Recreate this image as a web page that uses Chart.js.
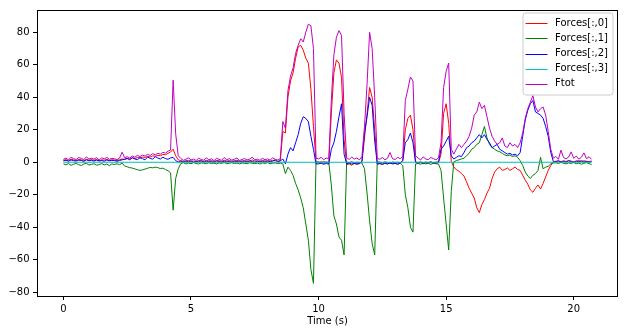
<!DOCTYPE html>
<html>
<head>
<meta charset="utf-8">
<title>Forces</title>
<script src="https://cdn.jsdelivr.net/npm/chart.js@4.4.0/dist/chart.umd.min.js"></script>
<style>
  html, body { margin: 0; padding: 0; background: #fff; }
  #wrap { width: 625px; height: 335px; }
</style>
</head>
<body>
<div id="wrap"><canvas id="forces" width="625" height="335"></canvas></div>
<script>
const SAMPLE_DT = 0.1;

const forces0 = [
  1.2, 1.6, 1.0, 1.9, 1.4, 1.1, 1.7, 1.5, 1.0, 1.8, 1.3, 1.6, 1.2, 1.7, 0.9, 1.5, 1.3, 1.8, 1.1, 1.5, 1.4, 1.0, 1.6,
  2.0,
  1.8, 2.2, 2.0, 2.6, 2.3, 2.9, 2.7, 3.2, 3.0, 3.6, 3.3, 3.9, 3.7, 4.2, 4.0, 4.8, 4.6, 5.5, 6.3,
  8.0, 4.0, 1.5,
  1.0, 0.6, 0.9, 1.2, 0.7, 0.8, 0.5, 1.1, 0.9, 0.6, 1.2, 0.8, 1.0, 0.5, 1.1, 0.9, 0.6, 1.3, 0.8, 1.0,
  0.7, 0.9, 1.2, 0.5, 0.8, 1.1, 0.7, 0.9, 1.4, 0.8, 0.9, 0.6, 1.1, 0.8, 1.0, 0.7, 1.2, 0.9, 0.7, 1.0,
  19, 18, 40, 50, 55, 64, 71, 72, 69, 64, 61, 45, 22, 0.3,
  -0.5, 0.4, -0.8, 0.2, -0.3,
  30, 55, 63, 61, 52, 14,
  -1.5, -1.0, -1.8, -0.7, -1.3, -0.9,
  0.5, 15, 30, 46, 40, 20, -1.2,
  -0.8, -1.4, -0.6, -1.1, -0.5, -1.0, -0.7, -1.3, -0.4,
  1.0, 20, 27, 29, 20, 0.5,
  -0.6, -0.2, -0.9, -0.4, -0.7, -0.1, -0.5, -0.8, -0.3,
  5, 30, 36, 24, 0.5,
  -3, -4.5, -5.5, -7, -8.5, -12, -16, -19, -22, -28, -31, -26, -23, -19, -16, -10, -6, -4, -3, -5, -4.5, -3.5, -5, -4, -3, -4.5, -5,
  -8, -11, -13.5, -17, -18.5, -16, -14, -16.5, -13, -9, -5, -2, 0.3,
  0.6, 1.0, 0.4, 0.9, 0.5, 1.1, 0.7, 0.3, 0.8, 1.0, 0.5, 0.9, 0.6, 0.4, 0.8
];

const forces1 = [
  -1.0, -1.6, -0.8, -1.9, -1.2, -0.7, -1.5, -2.0, -1.1, -0.6, -1.7, -1.3, -0.9, -1.8, -1.4, -0.8, -1.6, -1.1, -2.1, -1.0, -1.4, -0.9, -1.5,
  -0.5,
  -2.3, -2.8, -3.3, -3.6, -4.1, -4.6, -5.0, -4.7, -4.2, -3.7, -3.2, -3.4, -3.0, -3.3, -3.9, -3.6, -4.5, -5.2, -6.5,
  -29.5, -10, -4,
  -0.8, -0.3, -1.0, -0.5, -0.9, -0.2, -0.7, -1.1, -0.4, -0.6, -0.9, -0.3, -0.8, -0.5, -1.0, -0.4, -0.7, -0.2, -0.9, -0.6,
  -0.3, -0.8, -0.5, -1.0, -0.4, -0.7, -0.9, -0.3, -0.6, -0.8, -0.5, -1.1, -0.4, -0.7, -0.2, -0.9, -0.6, -0.4, -0.8, -0.5,
  -1, -7, -3, -5, -8, -13, -17, -22, -28, -38, -48, -66, -74.5, 0.2,
  0.3, -0.4, 0.5, -0.2, 0.1,
  -14, -33, -38, -46, -48, -57,
  0.2, -0.3, 0.4, -0.5, 0.1, -0.2,
  -0.5, -4, -19, -36, -50, -57, 0.3,
  0.1, -0.4, 0.3, -0.2, -0.6, 0.2, -0.3, 0.1, -0.5,
  -2, -20, -28, -40, -43, -1,
  -0.8, -1.2, -0.5, -1.0, -0.7, -1.3, -0.6, -0.9, -1.1,
  -5, -22, -38, -54, -18,
  0.2, 1.0, 1.5, 2.0, 2.5, 4.0, 5.5, 8, 9, 11, 12, 17, 22, 15, 11, 9, 8, 7, 6.5, 5.5, 4.5, 4, 4.5, 3.5, 4, 3, 1,
  -2, -6, -8.5, -10, -8, -7, -5, 3, -4, -3, -2.5, -1, -0.5,
  -0.3, -0.8, -0.1, -0.6, -1.0, -0.4, -0.7, -0.2, -0.9, -0.5, -1.2, -0.6, -0.3, -0.8, -1.5
];

const forces2 = [
  0.8, 1.2, 0.6, 1.4, 1.0, 0.7, 1.3, 1.1, 0.5, 1.5, 0.9, 1.2, 0.7, 1.3, 0.8, 1.1, 0.6, 1.4, 0.9, 1.2, 1.0, 0.6, 1.1,
  1.5,
  1.8, 2.5, 1.4, 3.0, 2.0, 1.6, 2.8, 2.2, 1.5, 3.2, 2.4, 1.9, 3.5, 2.6, 2.0, 3.1, 2.3, 1.8, 2.7,
  3.0, 1.0, 0.2,
  0.5, 0.2, 0.6, 0.3, 0.7, 0.1, 0.5, 0.4, 0.8, 0.2, 0.6, 0.3, 0.5, 0.0, 0.7, 0.4, 0.2, 0.6, 0.3, 0.5,
  0.1, 0.6, 0.4, 0.8, 0.2, 0.5, 0.3, 0.7, 0.4, 0.1, 0.6, 0.3, 0.5, 0.2, 0.7, 0.4, 0.6, 1.5, 0.3, 0.8,
  2.0, -1, 5, 9, 7, 12, 17, 24, 28, 27, 25, 16, 8, -1,
  -1.0, -0.6, -1.2, -0.8, -1.1,
  8, 12, 19, 28, 36, 5,
  -0.9, -0.5, -1.1, -0.7, -1.0, -0.6,
  0.5, 18, 28, 40, 35, 13, -1,
  -0.8, -1.2, -0.6, -1.0, -0.4, -0.9, -0.7, -1.1, -0.5,
  1, 12, 14, 18, 12, 0,
  -0.3, 0.2, -0.5, 0.1, -0.2, 0.3, -0.4, 0.0, 0.2,
  8, 10, 13, 16, 4,
  2, 3, 4, 3.5, 6, 9, 10, 12, 13, 15, 17, 15, 17, 14, 12, 9, 10, 11, 8, 7, 6, 5, 5.5, 4.5, 5, 4, 6,
  16, 26, 32, 36, 38, 31, 30, 29, 27, 22, 16, 6, 0.5,
  0.3, 0.7, 0.1, 0.5, 0.2, 0.8, 0.4, 0.0, 0.6, 0.3, 0.9, 0.2, 0.5, 0.1, 0.4
];

// fourth channel stays flat at zero over the whole recording
const forces3Time = [0, 20.7];
const forces3 = [0, 0];

const ftot = [
  1.8, 2.6, 1.5, 3.1, 2.2, 1.7, 2.9, 2.4, 1.6, 3.3, 2.0, 2.5, 1.9, 2.8, 1.4, 2.7, 2.1, 3.0, 1.8, 2.4, 2.2, 1.6, 2.6,
  6.2,
  2.8, 3.4, 2.6, 3.9, 3.1, 4.2, 3.5, 4.4, 3.8, 4.9, 4.2, 5.3, 4.6, 5.5, 5.0, 6.1, 5.6, 6.8, 7.5,
  50.5, 17.5, 4.0,
  2.3, 1.2, 1.9, 2.7, 1.4, 2.0, 1.1, 2.5, 1.7, 1.3, 2.8, 1.5, 2.1, 1.0, 2.4, 1.8, 1.2, 2.9, 1.6, 2.2,
  1.3, 1.9, 2.6, 1.1, 1.7, 2.3, 1.4, 2.0, 3.1, 1.5, 1.9, 1.2, 2.4, 1.6, 2.1, 1.3, 2.7, 1.8, 1.4, 2.2,
  25, 21, 44, 53, 58, 67, 72, 76, 74, 80, 85, 84, 70, 2.5,
  2.1, 3.0, 1.6, 2.6, 2.2,
  38, 66, 77, 81, 78, 30,
  2.8, 1.7, 3.2, 2.0, 2.6, 1.5,
  3.5, 22, 48, 80, 70, 40, 2.4,
  1.8, 2.9, 1.5, 2.4, 6.0, 2.1, 1.7, 3.0, 2.2,
  3.5, 38, 45, 52.5, 50, 4,
  2.6, 1.4, 3.3, 2.0, 1.6, 2.9, 2.2, 1.5, 2.7,
  12, 46, 56, 61, 8,
  5, 8, 11, 9, 11, 13, 16, 21, 29, 31, 37, 33, 35, 28, 21, 16, 13, 11, 12, 15, 10, 9, 12, 10, 11, 9, 12,
  18, 27, 33, 37, 41, 34, 31, 33, 34, 29, 19, 8, 2.5,
  3.6, 1.8, 7.5, 2.9, 2.1, 3.2, 6.4, 2.4, 3.8, 1.9, 3.1, 5.8, 2.2, 3.4, 1.8
];

const xTicks = [0, 5, 10, 15, 20];
const yTicks = [-80, -60, -40, -20, 0, 20, 40, 60, 80];

const time = ftot.map((_, i) => +(i * SAMPLE_DT).toFixed(1));

const FONT = { family: '"DejaVu Sans", sans-serif', size: 10 };
const fmt = (v) => (v < 0 ? '\u2212' + Math.abs(v) : String(v));

function series(label, values, times, color, order) {
  return {
    label,
    data: values.map((v, i) => ({ x: times[i], y: v })),
    borderColor: color,
    backgroundColor: color,
    borderWidth: 1,
    pointRadius: 0,
    tension: 0,
    order, // lower order is painted on top
  };
}

// matplotlib style box around the plot area
const frame = {
  id: 'frame',
  afterDatasetsDraw(chart) {
    const { ctx, chartArea: a } = chart;
    ctx.save();
    ctx.strokeStyle = '#000';
    ctx.lineWidth = 1;
    ctx.strokeRect(Math.round(a.left) + 0.5, Math.round(a.top) + 0.5,
      Math.round(a.right - a.left) - 1, Math.round(a.bottom - a.top) - 1);
    ctx.restore();
  },
};

// legend in the upper right corner, inside the axes
const cornerLegend = {
  id: 'cornerLegend',
  afterDraw(chart) {
    const { ctx, chartArea } = chart;
    const items = chart.data.datasets;
    ctx.save();
    ctx.font = '10px "DejaVu Sans", sans-serif';
    const textW = Math.max(...items.map((d) => ctx.measureText(d.label).width));
    const rowH = 15.2, handle = 22, gap = 7.5, padL = 3, padR = 4.5, padV = 10.6;
    const w = padL + handle + gap + textW + padR;
    const h = padV * 2 + rowH * (items.length - 1);
    const x0 = chartArea.right - 5.5 - w;
    const y0 = chartArea.top + 3;

    ctx.beginPath();
    ctx.roundRect(x0 + 0.5, y0 + 0.5, w, h, 3);
    ctx.fillStyle = 'rgba(255,255,255,0.8)';
    ctx.fill();
    ctx.strokeStyle = '#cccccc';
    ctx.lineWidth = 1;
    ctx.stroke();

    items.forEach((d, i) => {
      const cy = y0 + padV + i * rowH;
      ctx.strokeStyle = d.borderColor;
      ctx.beginPath();
      ctx.moveTo(x0 + padL, Math.round(cy) + 0.5);
      ctx.lineTo(x0 + padL + handle, Math.round(cy) + 0.5);
      ctx.stroke();
      ctx.fillStyle = '#000';
      ctx.textBaseline = 'middle';
      ctx.textAlign = 'left';
      ctx.fillText(d.label, x0 + padL + handle + gap, cy);
    });
    ctx.restore();
  },
};

new Chart(document.getElementById('forces'), {
  type: 'line',
  data: {
    datasets: [
      series('Forces[:,0]', forces0, time, '#ff0000', 5),
      series('Forces[:,1]', forces1, time, '#008000', 4),
      series('Forces[:,2]', forces2, time, '#0000ff', 3),
      series('Forces[:,3]', forces3, forces3Time, '#00bfbf', 2),
      series('Ftot', ftot, time, '#bf00bf', 1),
    ],
  },
  options: {
    responsive: false,
    animation: false,
    devicePixelRatio: 1,
    layout: { padding: { top: 7, right: 7, bottom: 0, left: 0 } },
    plugins: {
      legend: { display: false },
      tooltip: { enabled: false },
    },
    scales: {
      x: {
        type: 'linear',
        min: -1.035,
        max: 21.735,
        afterBuildTicks: (s) => { s.ticks = xTicks.map((v) => ({ value: v })); },
        afterFit: (s) => { s.height = 39; },
        border: { display: false },
        grid: { drawOnChartArea: false, drawTicks: true, tickLength: 4, color: '#000' },
        ticks: { padding: 3, color: '#000', font: FONT, maxRotation: 0, callback: fmt },
        title: {
          display: true, text: 'Time (s)', color: '#000', font: FONT,
          padding: { top: 0, bottom: 8 },
        },
      },
      y: {
        type: 'linear',
        min: -82.3,
        max: 94,
        afterBuildTicks: (s) => { s.ticks = yTicks.map((v) => ({ value: v })); },
        afterFit: (s) => { s.width = 37; },
        border: { display: false },
        grid: { drawOnChartArea: false, drawTicks: true, tickLength: 4, color: '#000' },
        ticks: { padding: 3.5, color: '#000', font: FONT, callback: fmt },
      },
    },
  },
  plugins: [frame, cornerLegend],
});
</script>
</body>
</html>
